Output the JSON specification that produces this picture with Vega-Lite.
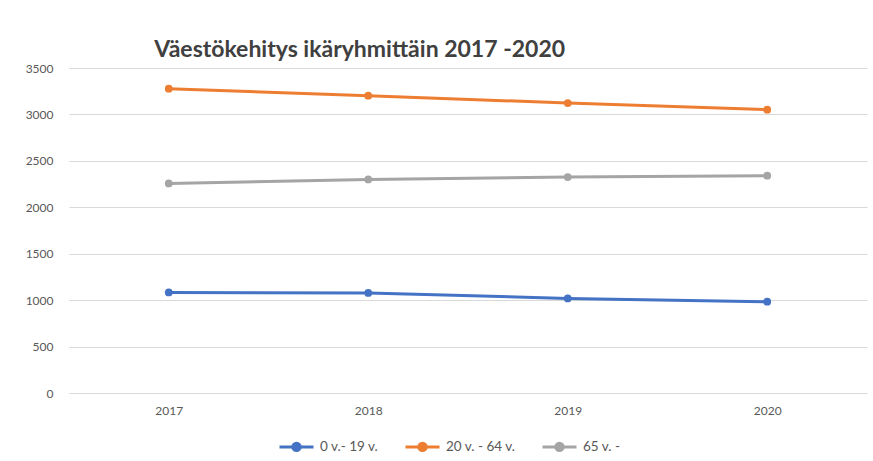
{
  "$schema": "https://vega.github.io/schema/vega-lite/v6.json",
  "width": 798,
  "height": 325,
  "autosize": {"type": "none"},
  "padding": {"left": 69, "top": 68, "right": 6, "bottom": 68},
  "background": "white",
  "config": {"view": {"stroke": null}, "font": "Lato"},
  "title": {
    "text": "Väestökehitys ikäryhmittäin 2017 -2020",
    "anchor": "start",
    "dx": 129,
    "offset": 0,
    "fontSize": 23,
    "font": "Lato",
    "fontWeight": "bold",
    "color": "#404040"
  },
  "data": {
    "values": [
      {"year": "2017", "group": "0 v.- 19 v.", "value": 1083},
      {"year": "2018", "group": "0 v.- 19 v.", "value": 1077},
      {"year": "2019", "group": "0 v.- 19 v.", "value": 1019},
      {"year": "2020", "group": "0 v.- 19 v.", "value": 983},
      {"year": "2017", "group": "20 v. - 64 v.", "value": 3277},
      {"year": "2018", "group": "20 v. - 64 v.", "value": 3202},
      {"year": "2019", "group": "20 v. - 64 v.", "value": 3123},
      {"year": "2020", "group": "20 v. - 64 v.", "value": 3051},
      {"year": "2017", "group": "65 v. -", "value": 2257},
      {"year": "2018", "group": "65 v. -", "value": 2300},
      {"year": "2019", "group": "65 v. -", "value": 2326},
      {"year": "2020", "group": "65 v. -", "value": 2340}
    ]
  },
  "mark": {"type": "line", "strokeWidth": 3, "point": {"filled": true, "size": 60, "opacity": 1}},
  "encoding": {
    "x": {
      "field": "year",
      "type": "ordinal",
      "scale": {"type": "point", "padding": 0.5},
      "axis": {"title": null, "labelAngle": 0, "domain": false, "ticks": false, "labelColor": "#595959", "labelFontSize": 12, "labelPadding": 12, "grid": false}
    },
    "y": {
      "field": "value",
      "type": "quantitative",
      "scale": {"domain": [0, 3500], "nice": false},
      "axis": {"title": null, "format": "d", "values": [0, 500, 1000, 1500, 2000, 2500, 3000, 3500], "domain": false, "ticks": false, "gridColor": "#d9d9d9", "gridWidth": 1.2, "labelColor": "#595959", "labelFontSize": 12, "labelPadding": 16}
    },
    "color": {
      "field": "group",
      "type": "nominal",
      "scale": {"domain": ["0 v.- 19 v.", "20 v. - 64 v.", "65 v. -"], "range": ["#4472C4", "#ED7D31", "#A5A5A5"]},
      "legend": {
        "title": null,
        "orient": "none",
        "direction": "horizontal",
        "legendX": 209,
        "legendY": 360,
        "symbolType": "M-1,0L1,0M-0.22,0A0.22,0.22 0 1 1 0.22,0A0.22,0.22 0 1 1 -0.22,0Z",
        "symbolSize": 1156,
        "symbolStrokeWidth": 3,
        "labelFontSize": 13.5,
        "labelColor": "#595959",
        "labelOffset": 5,
        "columnPadding": 20,
        "encode": {"symbols": {"update": {"fill": {"scale": "color", "field": "value"}}}}
      }
    }
  }
}
